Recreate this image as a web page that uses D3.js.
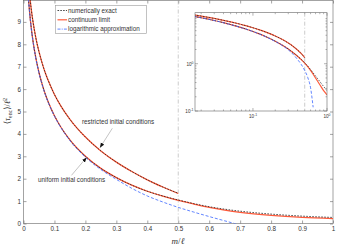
<!DOCTYPE html>
<html><head><meta charset="utf-8">
<script src="https://cdn.jsdelivr.net/npm/d3@7"></script>
<style>
body{margin:0;background:#fff}
svg{display:block}
text{font-family:"Liberation Sans",Arial,sans-serif;fill:#333}
</style>
</head><body>
<svg id="c" width="337" height="250"></svg>
<script>
// ---- data ----
const mValues = [0.016,0.02,0.025,0.03,0.04,0.05,0.06,0.07,0.08,0.1,0.12,0.15,0.2,0.25,0.3,0.35,0.4,0.45,0.5,0.55,0.6,0.65,0.7,0.8,0.9,1.0];
const uniformContinuum = [10.04,9.39,8.74,8.21,7.38,6.74,6.23,5.79,5.42,4.81,4.32,3.73,3.00,2.46,2.05,1.71,1.44,1.22,1.03,0.87,0.72,0.60,0.50,0.36,0.27,0.22];
const uniformExact     = [10.04,9.39,8.74,8.21,7.38,6.74,6.23,5.79,5.42,4.81,4.32,3.73,3.00,2.46,2.05,1.71,1.44,1.23,1.05,0.89,0.75,0.64,0.55,0.42,0.33,0.27];
const logM             = [0.016,0.02,0.025,0.03,0.04,0.05,0.06,0.07,0.08,0.1,0.12,0.15,0.2,0.25,0.3,0.35,0.4,0.45,0.5,0.55,0.6,0.65,0.7];
const uniformLogApprox = [10.02,9.37,8.72,8.19,7.36,6.72,6.21,5.77,5.40,4.79,4.30,3.70,2.96,2.41,1.97,1.57,1.23,0.96,0.72,0.51,0.31,0.12,-0.07];
const restrictedM      = [0.016,0.02,0.025,0.03,0.04,0.05,0.06,0.07,0.08,0.1,0.12,0.15,0.2,0.25,0.3,0.35,0.4,0.45,0.5];
const restrictedContinuum = [10.80,10.19,9.57,9.07,8.28,7.67,7.17,6.74,6.38,5.76,5.26,4.65,3.86,3.24,2.74,2.32,1.95,1.63,1.34];
const restrictedExact     = [10.80,10.19,9.57,9.07,8.28,7.67,7.17,6.74,6.38,5.76,5.26,4.65,3.86,3.24,2.74,2.32,1.95,1.63,1.35];

const xTicks = [0,0.1,0.2,0.3,0.4,0.5,0.6,0.7,0.8,0.9,1];
const xTickLabels = ["0","0.1","0.2","0.3","0.4","0.5","0.6","0.7","0.8","0.9","1"];
const yTicks = [0,1,2,3,4,5,6,7,8,9];
const yTickLabels = ["0","1","2","3","4","5","6","7","8","9"];
const legendLabels = ["numerically exact","continuum limit","logarithmic approximation"];
const insetXMajor = [0.1,1];
const insetXMajorExp = ["-1","0"];
const insetXMinor = [0.02,0.03,0.04,0.05,0.06,0.07,0.08,0.09,0.2,0.3,0.4,0.5,0.6,0.7,0.8,0.9];
const insetYMajor = [0.1,1];
const insetYMajorExp = ["-1","0"];
const insetYMinor = [0.2,0.3,0.4,0.5,0.6,0.7,0.8,0.9,2,3,4,5,6,7,8,9];
const annotations = ["restricted initial conditions","uniform initial conditions"];

// ---- styles ----
const RED="#ff5a3a", BLACK="#1a1a1a", BLUE="#3a66ff", FRAME="#666";

const svg = d3.select("#c");
const x = d3.scaleLinear().domain([0,1]).range([23.5,333]);
const y = d3.scaleLinear().domain([0,10]).range([223.5,-0.5]);

const defs = svg.append("defs");
defs.append("clipPath").attr("id","mainclip").append("rect")
  .attr("x",23.5).attr("y",0).attr("width",333-23.5).attr("height",223.5);
defs.append("marker").attr("id","arr").attr("viewBox","0 0 10 10")
  .attr("refX",10).attr("refY",5).attr("markerWidth",5).attr("markerHeight",5)
  .attr("orient","auto").attr("markerUnits","userSpaceOnUse")
  .append("path").attr("d","M0,1L10,5L0,9z").attr("fill","#111");

function styleAxis(g){ g.select(".domain").remove(); g.selectAll("line").attr("stroke",FRAME).attr("stroke-width",0.6); g.selectAll("text").attr("font-size","6.3px").attr("fill","#333").attr("font-family","Liberation Sans, Arial, sans-serif"); }
svg.append("g").attr("transform","translate(0,223.5)")
  .call(d3.axisBottom(x).tickValues(xTicks).tickFormat((d,i)=>xTickLabels[i]).tickSize(-3).tickPadding(3)).call(styleAxis);
svg.append("g").attr("transform","translate(0,0.5)")
  .call(d3.axisTop(x).tickValues(xTicks).tickFormat("").tickSize(-3)).call(styleAxis);
svg.append("g").attr("transform","translate(23.5,0)")
  .call(d3.axisLeft(y).tickValues(yTicks).tickFormat((d,i)=>yTickLabels[i]).tickSize(-3).tickPadding(2.5)).call(styleAxis);
svg.append("g").attr("transform","translate(333,0)")
  .call(d3.axisRight(y).tickValues(yTicks).tickFormat("").tickSize(-3)).call(styleAxis);
svg.append("rect").attr("x",23.5).attr("y",0.5).attr("width",333-23.5).attr("height",223)
  .attr("fill","none").attr("stroke",FRAME).attr("stroke-width",0.6);

svg.append("line").attr("x1",x(0.5)).attr("x2",x(0.5)).attr("y1",0.5).attr("y2",223.5)
  .attr("stroke","#aaa").attr("stroke-width",0.6).attr("stroke-dasharray","4,2,1,2");

function series(xs, ys){ return xs.map((v,i)=>[v,ys[i]]); }
const mainLine = d3.line().x(d=>x(d[0])).y(d=>y(d[1])).curve(d3.curveMonotoneX);
const gm = svg.append("g").attr("clip-path","url(#mainclip)");
function draw(g, gen, data, color, w, dash){
  g.append("path").datum(data).attr("d",gen).attr("fill","none").attr("stroke",color)
   .attr("stroke-width",w).attr("stroke-dasharray",dash||null);
}
draw(gm, mainLine, series(mValues,uniformContinuum), RED, 1.3);
draw(gm, mainLine, series(restrictedM,restrictedContinuum), RED, 1.3);
draw(gm, mainLine, series(mValues,uniformExact), BLACK, 0.75, "1.6,1.4");
draw(gm, mainLine, series(restrictedM,restrictedExact), BLACK, 0.75, "1.6,1.4");
draw(gm, mainLine, series(logM,uniformLogApprox), BLUE, 0.8, "3,1.8");

svg.append("text").attr("x",82).attr("y",124).attr("font-size","6.3px").text(annotations[0]);
svg.append("line").attr("x1",x(0.287)).attr("y1",y(4.25)).attr("x2",x(0.247)).attr("y2",y(3.38))
  .attr("stroke","#888").attr("stroke-width",0.5).attr("marker-end","url(#arr)");
svg.append("text").attr("x",38).attr("y",182).attr("font-size","6.3px").text(annotations[1]);
svg.append("line").attr("x1",x(0.155)).attr("y1",y(2.15)).attr("x2",x(0.204)).attr("y2",y(2.95))
  .attr("stroke","#888").attr("stroke-width",0.5).attr("marker-end","url(#arr)");

const xt = svg.append("text").attr("x",178).attr("y",244).attr("text-anchor","middle")
  .attr("font-size","9px").style("font-family","Liberation Serif, serif").style("font-style","italic");
xt.append("tspan").text("m");
xt.append("tspan").style("font-style","normal").text("/");
xt.append("tspan").text("ℓ");
const yt = svg.append("text").attr("transform","translate(10,111) rotate(-90)").attr("text-anchor","middle")
  .attr("font-size","8.5px").style("font-family","Liberation Serif, DejaVu Serif, serif");
yt.append("tspan").text("⟨");
yt.append("tspan").style("font-style","italic").text("τ");
yt.append("tspan").attr("font-size","5.8px").attr("dy","1.5").text("enc");
yt.append("tspan").attr("dy","-1.5").text("⟩/");
yt.append("tspan").style("font-style","italic").text("ℓ");
yt.append("tspan").attr("font-size","5.8px").attr("dy","-3").text("2");

const lg = svg.append("g");
lg.append("rect").attr("x",55.5).attr("y",5.5).attr("width",91).attr("height",28)
  .attr("fill","#fff").attr("stroke","#999").attr("stroke-width",0.6);
const legendStyles = [[BLACK,0.8,"1.6,1.2"],[RED,1.2,null],[BLUE,0.8,"3,1.2,1,1.2"]];
legendLabels.forEach((t,i)=>{
  const yy = 10.5 + i*9.3;
  lg.append("line").attr("x1",57.5).attr("x2",67).attr("y1",yy).attr("y2",yy)
    .attr("stroke",legendStyles[i][0]).attr("stroke-width",legendStyles[i][1]).attr("stroke-dasharray",legendStyles[i][2]);
  lg.append("text").attr("x",68).attr("y",yy+2.2).attr("font-size","6.3px").text(t);
});

// ---- inset (log-log) ----
const ix = d3.scaleLog().domain([0.0165,1]).range([195,327]);
const iy = d3.scaleLog().domain([0.1,12]).range([111,12.7]);
defs.append("clipPath").attr("id","insetclip").append("rect")
  .attr("x",195).attr("y",12.7).attr("width",132).attr("height",98.3);
svg.append("rect").attr("x",195).attr("y",12.7).attr("width",132).attr("height",98.3).attr("fill","#fff");
const gi = svg.append("g");
function tickX(v,len){ [[111,-1],[12.7,1]].forEach(([yy,s])=>gi.append("line").attr("x1",ix(v)).attr("x2",ix(v)).attr("y1",yy).attr("y2",yy+s*len).attr("stroke",FRAME).attr("stroke-width",0.5)); }
function tickY(v,len){ [[195,1],[327,-1]].forEach(([xx,s])=>gi.append("line").attr("y1",iy(v)).attr("y2",iy(v)).attr("x1",xx).attr("x2",xx+s*len).attr("stroke",FRAME).attr("stroke-width",0.5)); }
insetXMinor.forEach(v=>tickX(v,1.5)); insetXMajor.forEach(v=>tickX(v,3));
insetYMinor.forEach(v=>tickY(v,1.5)); insetYMajor.forEach(v=>tickY(v,3));
gi.append("line").attr("x1",ix(0.5)).attr("x2",ix(0.5)).attr("y1",12.7).attr("y2",111)
  .attr("stroke","#aaa").attr("stroke-width",0.6).attr("stroke-dasharray","4,2,1,2");
const gic = gi.append("g").attr("clip-path","url(#insetclip)");
const insetLine = d3.line().defined(d=>d[1]>0).x(d=>ix(d[0])).y(d=>iy(d[1])).curve(d3.curveMonotoneX);
draw(gic, insetLine, series(mValues,uniformContinuum), RED, 1.2);
draw(gic, insetLine, series(restrictedM,restrictedContinuum), RED, 1.2);
draw(gic, insetLine, series(mValues,uniformExact), BLACK, 0.7, "1.6,1.4");
draw(gic, insetLine, series(restrictedM,restrictedExact), BLACK, 0.7, "1.6,1.4");
draw(gic, insetLine, series(logM,uniformLogApprox), BLUE, 0.8, "3,1.8");
gi.append("rect").attr("x",195).attr("y",12.7).attr("width",132).attr("height",98.3)
  .attr("fill","none").attr("stroke",FRAME).attr("stroke-width",0.6);
function powLabel(px,py,exp,anchor){
  const t = gi.append("text").attr("x",px).attr("y",py).attr("font-size","4.6px").attr("text-anchor",anchor);
  t.append("tspan").text("10");
  t.append("tspan").attr("font-size","3.4px").attr("dy","-1.8").text(exp);
}
insetXMajor.forEach((v,i)=>powLabel(ix(v),117.5,insetXMajorExp[i],"middle"));
insetYMajor.forEach((v,i)=>powLabel(193.5,iy(v)+1.8,insetYMajorExp[i],"end"));
</script>
</body></html>
